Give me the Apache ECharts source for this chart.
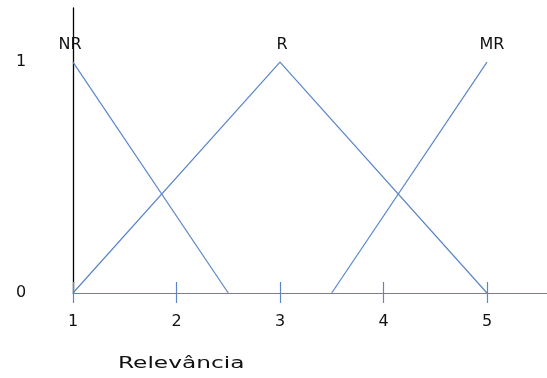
<!DOCTYPE html>
<html>
<head>
<meta charset="utf-8">
<script src="https://cdn.jsdelivr.net/npm/echarts@6/dist/echarts.min.js"></script>
<style>
  html, body { margin: 0; padding: 0; background: #fff; }
  #chart { width: 547px; height: 378px; }
</style>
</head>
<body>
<div id="chart"></div>
<script>
// valores
const xTicks = [1, 2, 3, 4, 5];
const yTicks = [0, 1];
const setNames = ['NR', 'R', 'MR'];
const nrX = [1, 2.5];
const nrY = [1, 0];
const rX = [1, 3, 5];
const rY = [0, 1, 0];
const mrX = [3.5, 5];
const mrY = [0, 1];
const axisTitle = 'Relevância';

const lineColor = '#5a86c8';
const font = 'DejaVu Sans';

// monta os pontos, com o rótulo no pico (y = 1)
function buildData(xs, ys, name, dx) {
  return xs.map(function (x, i) {
    const item = { value: [x, ys[i]] };
    if (ys[i] === 1) {
      item.label = {
        show: true,
        formatter: name,
        position: 'top',
        distance: 9,
        offset: [dx, 0],
        color: '#111',
        fontFamily: font,
        fontSize: 16
      };
    }
    return item;
  });
}

function makeSeries(xs, ys, name, dx) {
  return {
    name: name,
    type: 'line',
    data: buildData(xs, ys, name, dx),
    symbol: 'circle',
    symbolSize: 0,
    lineStyle: { color: lineColor, width: 1.2 },
    itemStyle: { color: lineColor },
    z: 3
  };
}

let chart = echarts.init(document.getElementById('chart'));
chart.setOption({
  animation: false,
  backgroundColor: '#fff',
  grid: { left: 73, right: 0, top: 8, bottom: 85 },
  xAxis: [{
    type: 'value',
    min: 1,
    max: 5.58,
    position: 'bottom',
    z: 5,
    axisLine: { lineStyle: { color: lineColor, width: 1.2 } },
    axisTick: { show: true, inside: false, length: 10, customValues: xTicks, lineStyle: { color: lineColor, width: 1.2 } },
    axisLabel: { customValues: xTicks, margin: 21, color: '#111', fontFamily: font, fontSize: 16 },
    splitLine: { show: false }
  }, {
    // segundo eixo só para os ticks acima da linha
    type: 'value',
    min: 1,
    max: 5.58,
    position: 'bottom',
    z: 5,
    axisLine: { show: false },
    axisTick: { show: true, inside: true, length: 11, customValues: xTicks, lineStyle: { color: lineColor, width: 1.2 } },
    axisLabel: { show: false },
    splitLine: { show: false }
  }],
  yAxis: {
    type: 'value',
    min: 0,
    max: 1.234,
    axisLine: { show: true, lineStyle: { color: '#000', width: 1.3 } },
    axisTick: { show: false },
    axisLabel: { customValues: yTicks, align: 'center', margin: 52, color: '#111', fontFamily: font, fontSize: 16 },
    splitLine: { show: false }
  },
  graphic: [{
    type: 'text',
    left: 118,
    top: 357,
    scaleX: 1.55,
    style: { text: axisTitle, fill: '#111', font: '15px "DejaVu Sans"' }
  }],
  series: [
    makeSeries(nrX, nrY, setNames[0], -3),
    makeSeries(rX, rY, setNames[1], 2),
    makeSeries(mrX, mrY, setNames[2], 5)
  ]
});
</script>
</body>
</html>
